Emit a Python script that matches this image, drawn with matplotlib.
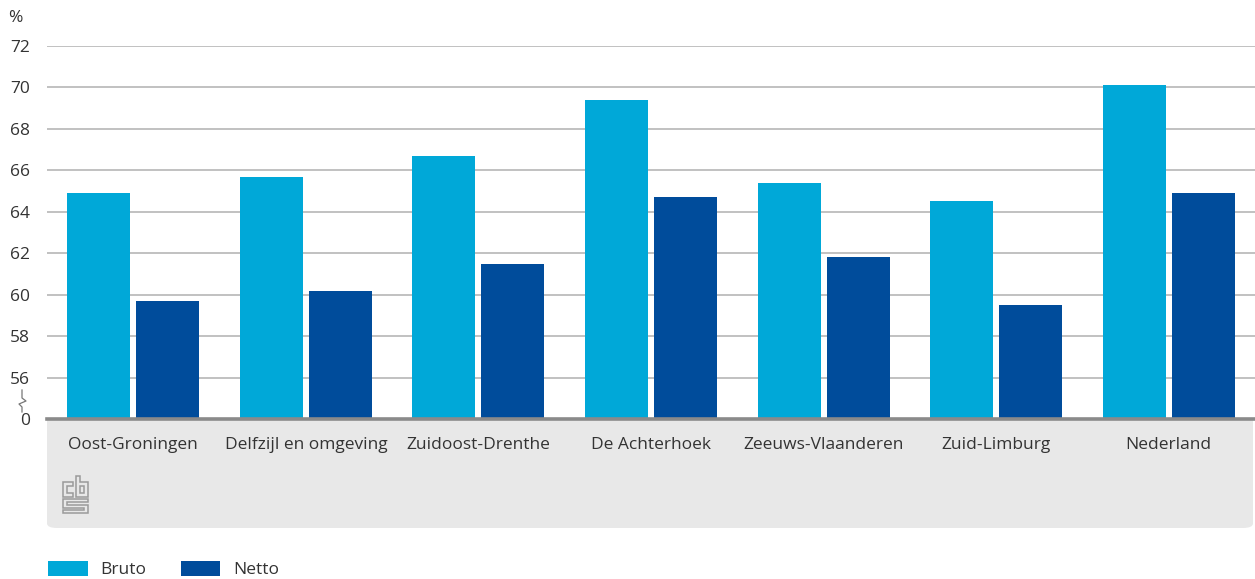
import numpy as np
import matplotlib.pyplot as plt
from matplotlib.patches import FancyBboxPatch, Polygon
from matplotlib.lines import Line2D

plt.rcParams['font.family'] = ['Open Sans', 'DejaVu Sans']

regions = ["Oost-Groningen", "Delfzijl en omgeving", "Zuidoost-Drenthe",
           "De Achterhoek", "Zeeuws-Vlaanderen", "Zuid-Limburg", "Nederland"]
bruto = [64.9, 65.7, 66.7, 69.4, 65.4, 64.5, 70.1]
netto = [59.7, 60.2, 61.5, 64.7, 61.8, 59.5, 64.9]
yticks = [54, 56, 58, 60, 62, 64, 66, 68, 70, 72]
ytick_labels = ["0", "56", "58", "60", "62", "64", "66", "68", "70", "72"]

W, H = 1255, 579
fig = plt.figure(figsize=(W / 100, H / 100), dpi=100)


def fx(x):
    return x / W


def fy(y):
    return 1 - y / H


# grey panel under the axis
panel = FancyBboxPatch((fx(47), fy(528)), fx(1253) - fx(47), fy(405) - fy(528),
                       boxstyle="round,pad=0,rounding_size=0.008",
                       transform=fig.transFigure, facecolor="#e8e8e8",
                       edgecolor="none", zorder=-5)
fig.patches.append(panel)

ax = fig.add_axes([fx(47), fy(419), 1 - fx(47), fy(46) - fy(419)])
ax.set_zorder(2)
ax.set_facecolor("white")

x = np.arange(len(regions))
w = 0.365
gap = 0.035
ax.bar(x - (w + gap) / 2, bruto, w, bottom=0, color="#00a8d8", label="Bruto", zorder=2)
ax.bar(x + (w + gap) / 2, netto, w, bottom=0, color="#004c9b", label="Netto", zorder=2)

ax.set_xlim(-0.5, len(regions) - 0.5)
ax.set_ylim(54, 72)
ax.set_yticks(yticks)
ax.set_yticklabels(ytick_labels)
for t in yticks[1:]:
    ax.axhline(t, color="#b0b0b0", lw=1.1, zorder=1)
ax.axhline(54, color="#8a8a8a", lw=2.6, zorder=3, clip_on=False)

ax.set_xticks(x)
ax.set_xticklabels(regions)
ax.tick_params(axis="x", length=0, pad=13, labelsize=12.5, colors="#333333")
ax.tick_params(axis="y", length=0, pad=12, labelsize=12.5, colors="#333333")
for s in ax.spines.values():
    s.set_visible(False)

fig.text(fx(8), fy(18), "%", fontsize=12.5, color="#333333", va="center")

# axis break mark
brk = [(22, 390), (22, 398), (26, 401), (19, 404), (22, 407), (22, 412)]
fig.add_artist(Line2D([fx(p[0]) for p in brk], [fy(p[1]) for p in brk],
                      transform=fig.transFigure, color="#777777", lw=0.9))

# cbs logo
logo = [
    [(73, 482), (63, 482), (63, 497), (73, 497), (73, 493), (67, 493), (67, 486), (73, 486)],
    [(76, 476), (80, 476), (80, 482), (88, 482), (88, 497), (76, 497)],
    [(80, 486), (84, 486), (84, 493), (80, 493)],
    [(63, 499), (88, 499), (88, 502), (67, 502), (67, 505), (88, 505), (88, 513),
     (63, 513), (63, 510), (84, 510), (84, 508), (63, 508)],
]
for shape in logo:
    fig.patches.append(Polygon([(fx(a), fy(b)) for a, b in shape], closed=True,
                               transform=fig.transFigure, fill=False,
                               edgecolor="#9a9a9a", lw=1.1, zorder=1))

ax.legend(loc="lower left", bbox_to_anchor=(fx(46), fy(580)),
          bbox_transform=fig.transFigure, ncol=2, frameon=False,
          fontsize=12.5, handlelength=2.3, handleheight=0.95,
          handletextpad=0.75, columnspacing=1.95, borderpad=0.1,
          borderaxespad=0, labelcolor="#333333")

fig.savefig("out.png", dpi=100)
